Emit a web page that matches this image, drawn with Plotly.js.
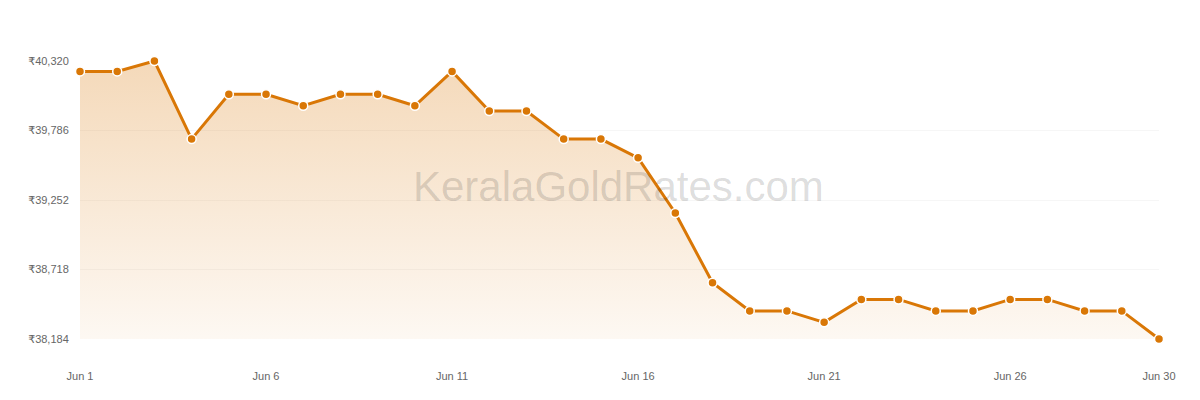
<!DOCTYPE html>
<html>
<head>
<meta charset="utf-8">
<script src="https://cdn.plot.ly/plotly-3.0.1.min.js"></script>
<style>html,body{margin:0;padding:0;background:#fff;}#chart{width:1200px;height:400px;}</style>
</head>
<body>
<div id="chart"></div>
<script>
const days = ["Jun 1","Jun 2","Jun 3","Jun 4","Jun 5","Jun 6","Jun 7","Jun 8","Jun 9","Jun 10",
  "Jun 11","Jun 12","Jun 13","Jun 14","Jun 15","Jun 16","Jun 17","Jun 18","Jun 19","Jun 20",
  "Jun 21","Jun 22","Jun 23","Jun 24","Jun 25","Jun 26","Jun 27","Jun 28","Jun 29","Jun 30"];
const rates = [40240,40240,40320,39720,40064,40064,39976,40064,40064,39976,
  40240,39936,39936,39720,39720,39576,39152,38616,38400,38400,
  38312,38488,38488,38400,38400,38488,38488,38400,38400,38184];
const xTickVals = ["Jun 1","Jun 6","Jun 11","Jun 16","Jun 21","Jun 26","Jun 30"];
const yTickVals = [38184,38718,39252,39786,40320];
const yTickText = ["₹38,184","₹38,718","₹39,252","₹39,786","₹40,320"];

const trace = {
  x: days, y: rates, type: 'scatter', mode: 'lines+markers',
  cliponaxis: false,
  line: {color: '#d97706', width: 3},
  marker: {color: '#d97706', size: 9, line: {color: '#ffffff', width: 1.5}},
  fill: 'tozeroy',
  fillcolor: 'rgba(217,119,6,0.2)',
  fillgradient: {type: 'vertical', start: 38184, stop: 40320,
    colorscale: [[0, 'rgba(217,119,6,0.05)'], [1, 'rgba(217,119,6,0.28)']]},
  hoverinfo: 'skip'
};
const tickFont = {family: 'Liberation Sans, Arial, DejaVu Sans, sans-serif', size: 11, color: '#666666'};
const layout = {
  width: 1200, height: 400,
  margin: {l: 80, r: 41, t: 61, b: 61},
  paper_bgcolor: '#ffffff', plot_bgcolor: '#ffffff',
  showlegend: false,
  font: tickFont,
  xaxis: {type: 'category', range: [0, 29], tickvals: xTickVals, ticktext: xTickVals,
    tickfont: tickFont,
    showgrid: false, zeroline: false, showline: false,
    ticks: 'outside', ticklen: 27, tickcolor: 'rgba(0,0,0,0)', fixedrange: true},
  yaxis: {range: [38184, 40320], tickvals: yTickVals, ticktext: yTickText,
    tickfont: tickFont,
    showgrid: true, gridcolor: 'rgba(0,0,0,0.035)', gridwidth: 1, zeroline: false, showline: false,
    ticks: 'outside', ticklen: 8, tickcolor: 'rgba(0,0,0,0)', fixedrange: true},
  annotations: [{xref: 'paper', yref: 'paper', x: 0.499, y: 0.55, xanchor: 'center', yanchor: 'middle',
    text: 'KeralaGoldRates.com', showarrow: false,
    font: {family: 'Liberation Sans, Arial, sans-serif', size: 42, color: 'rgba(0,0,0,0.14)'}}]
};
Plotly.newPlot('chart', [trace], layout, {displayModeBar: false, staticPlot: true});
</script>
</body>
</html>
